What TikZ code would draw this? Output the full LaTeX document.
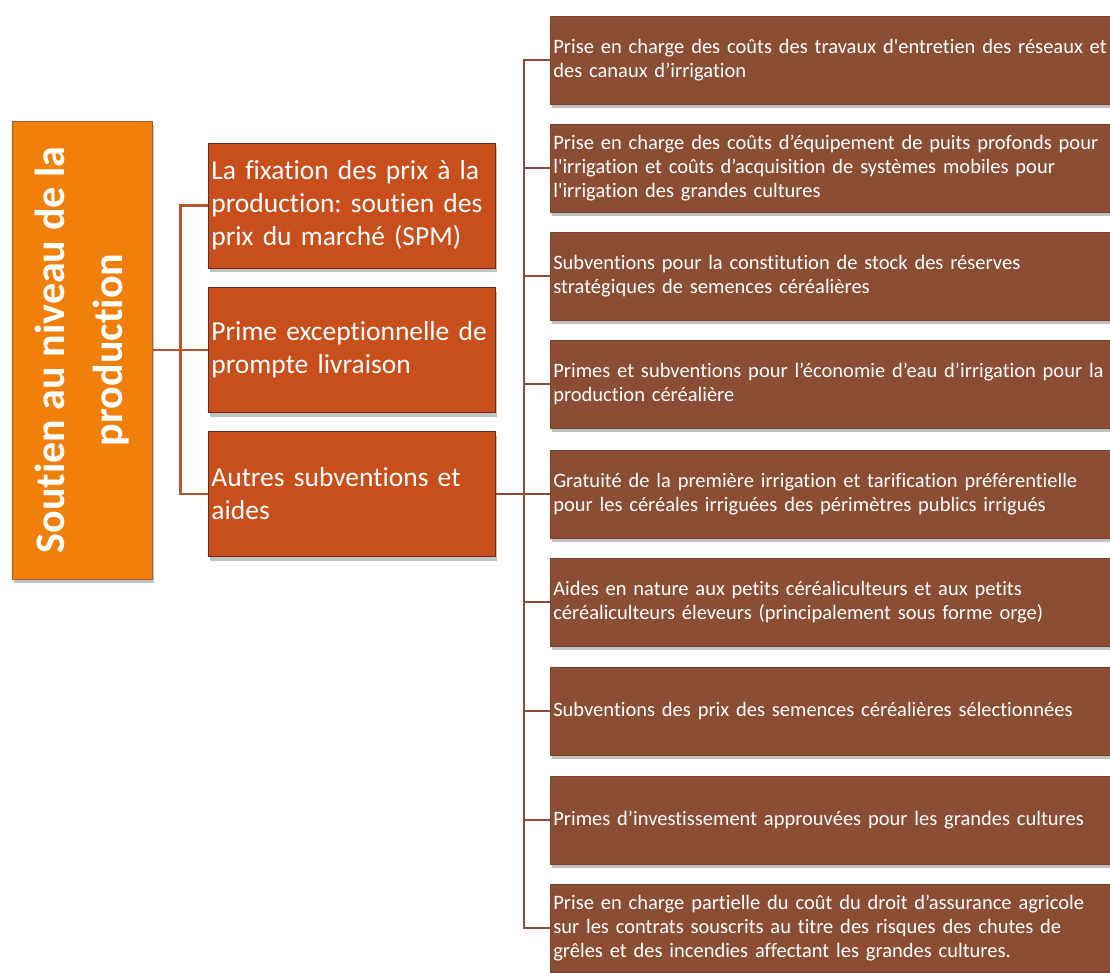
\documentclass[tikz,border=0pt]{standalone}
\usepackage{fontspec}
\setmainfont{Carlito}[Ligatures={TeX,NoCommon}]
\usetikzlibrary{shadows}
\definecolor{og}{RGB}{240,128,10}
\definecolor{ob}{RGB}{165,95,45}
\definecolor{rd}{RGB}{200,78,28}
\definecolor{rb}{RGB}{105,45,25}
\definecolor{br}{RGB}{139,77,52}
\definecolor{bb}{RGB}{120,65,45}
\definecolor{lr}{RGB}{180,85,48}
\definecolor{lk}{RGB}{140,75,55}
\frenchspacing

\begin{document}
\begin{tikzpicture}[x=1pt, y=-1pt,
    shd/.style={drop shadow={shadow xshift=2pt, shadow yshift=-4pt,
        opacity=0.35, fill=black!70}},
    rootbox/.style={fill=og, draw=ob, line width=1pt,
        minimum width=140pt, minimum height=458pt, shd},
    roottext/.style={text=white, align=center, rotate=90,
        font=\bfseries\fontsize{42}{58}\selectfont},
    midbox/.style={fill=rd, draw=rb, line width=0.8pt, anchor=west,
        minimum height=125pt, text width=281pt, inner xsep=3pt,
        align=left, text=white, font=\fontsize{27.5}{33}\selectfont, shd},
    subbox/.style={fill=br, draw=bb, line width=0.6pt, anchor=west,
        minimum height=88pt, text width=600pt, inner xsep=3pt,
        align=left, text=white, font=\fontsize{20.5}{24}\selectfont, shd},
    lnk/.style={draw=#1, line width=2.5pt}]

\useasboundingbox (0,0) rectangle (1110,972);

% ── root box (rotated title) ──
\node[rootbox] (root) at (82,350) {};
\node[roottext] (rootlbl) at (root.center) {Soutien au niveau de la\\production};

% ── middle column ──
\node[midbox] (fix) at (208,205.5)
    {La fixation des prix à la\\production: soutien des\\prix du marché (SPM)};
\node[midbox] (prime) at (208,350)
    {Prime exceptionnelle de\\prompte livraison};
\node[midbox] (autres) at (208,494)
    {Autres subventions et\\aides};

% root -> middle
\draw[lnk=lr] (root.east) -- ++(28,0) coordinate (busa);
\foreach \n in {fix,prime,autres}
    \draw[lnk=lr] (busa) |- (\n.west);

% ── right column: other subsidies ──
\node[subbox] (entretien) at (550,60)
    {Prise en charge des coûts des travaux d\textquotesingle entretien des réseaux et\\des canaux d’irrigation};
\node[subbox] (puits) at (550,168)
    {Prise en charge des coûts d’équipement de puits profonds pour\\l\textquotesingle irrigation et coûts d’acquisition de systèmes mobiles pour\\l\textquotesingle irrigation des grandes cultures};
\node[subbox] (stock) at (550,276)
    {Subventions pour la constitution de stock des réserves\\stratégiques de semences céréalières};
\node[subbox] (eau) at (550,384)
    {Primes et subventions pour l’économie d’eau d’irrigation pour la\\production céréalière};
\node[subbox] (gratuite) at (550,494)
    {Gratuité de la première irrigation et tarification préférentielle\\pour les céréales irriguées des périmètres publics irrigués};
\node[subbox] (nature) at (550,602)
    {Aides en nature aux petits céréaliculteurs et aux petits\\céréaliculteurs éleveurs (principalement sous forme orge)};
\node[subbox] (semences) at (550,711)
    {Subventions des prix des semences céréalières sélectionnées};
\node[subbox] (invest) at (550,820)
    {Primes d’investissement approuvées pour les grandes cultures};
\node[subbox] (assurance) at (550,928)
    {Prise en charge partielle du coût du droit d’assurance agricole\\sur les contrats souscrits au titre des risques des chutes de\\grêles et des incendies affectant les grandes cultures.};

% autres -> right column
\draw[lnk=lk] (autres.east) -- ++(28,0) coordinate (busb);
\foreach \n in {entretien,puits,stock,eau,gratuite,nature,semences,invest,assurance}
    \draw[lnk=lk] (busb) |- (\n.west);

\end{tikzpicture}
\end{document}
